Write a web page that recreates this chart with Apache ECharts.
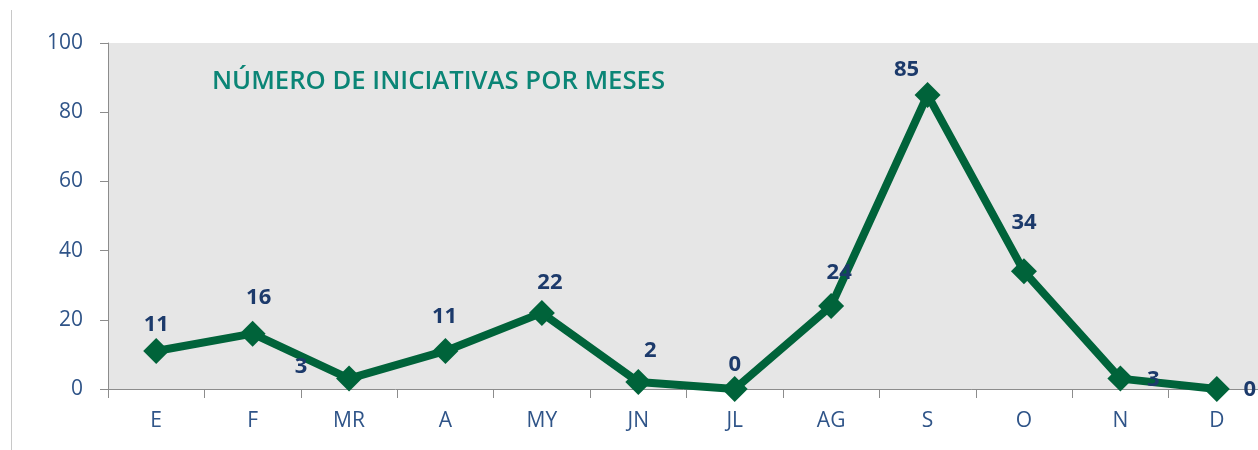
<!DOCTYPE html>
<html>
<head>
<meta charset="utf-8">
<script src="https://cdn.jsdelivr.net/npm/echarts@6/dist/echarts.min.js"></script>
<style>
html,body{margin:0;padding:0;background:#fff;}
#c{width:1258px;height:450px;}
</style>
</head>
<body>
<div id="c"></div>
<script>
const titleText = 'NÚMERO DE INICIATIVAS POR MESES';
const months = ['E','F','MR','A','MY','JN','JL','AG','S','O','N','D'];
const values = [11,16,3,11,22,2,0,24,85,34,3,0];
const yTicks = [0,20,40,60,80,100];
// label offsets (style only): [dx, dy] from the marker centre
const labelOffsets = [[0,-26],[6,-36],[-48,-12],[-1,-34],[8,-30],[12,-31],[0,-24],[8,-33],[-21,-25],[0,-49],[33,1],[33,1]];

const chart = echarts.init(document.getElementById('c'));
chart.setOption({
  animation:false,
  backgroundColor:'#ffffff',
  title:{
    text:titleText,
    left:207, top:64,
    textStyle:{color:'#0b8576', fontFamily:'Open Sans', fontWeight:600, fontSize:25.7}
  },
  graphic:[{
    type:'line', shape:{x1:11.5,y1:10,x2:11.5,y2:450},
    style:{stroke:'#c8c8c8', lineWidth:1}, silent:true
  }],
  grid:{left:108, width:1157, top:43, height:346, show:true, backgroundColor:'#e6e6e6', borderWidth:0,
        containLabel:false, outerBoundsMode:'none'},
  xAxis:{
    type:'category', data:months, boundaryGap:true,
    axisLine:{lineStyle:{color:'#8c8c8c', width:1}},
    axisTick:{show:true, length:9, lineStyle:{color:'#8c8c8c'}},
    axisLabel:{color:'#2f5488', fontFamily:'Open Sans', fontSize:21, margin:22},
    splitLine:{show:false}
  },
  yAxis:{
    type:'value', min:0, max:100, interval:20,
    axisLine:{show:true, lineStyle:{color:'#8c8c8c', width:1}},
    axisTick:{show:true, length:8, inside:false, lineStyle:{color:'#8c8c8c'}},
    axisLabel:{color:'#2f5488', fontFamily:'Open Sans', fontSize:21, margin:25,
      formatter:v => yTicks.includes(v) ? String(v) : ''},
    splitLine:{show:false}
  },
  series:[{
    type:'line',
    data:values.map((v,i)=>({value:v, label:{offset:labelOffsets[i]}})),
    symbol:'diamond', symbolSize:26,
    lineStyle:{color:'#00633a', width:8},
    itemStyle:{color:'#00633a'},
    label:{show:true, position:'inside', color:'#1c3a6b', fontFamily:'Open Sans', fontWeight:'bold', fontSize:22}
  }]
});
</script>
</body>
</html>
